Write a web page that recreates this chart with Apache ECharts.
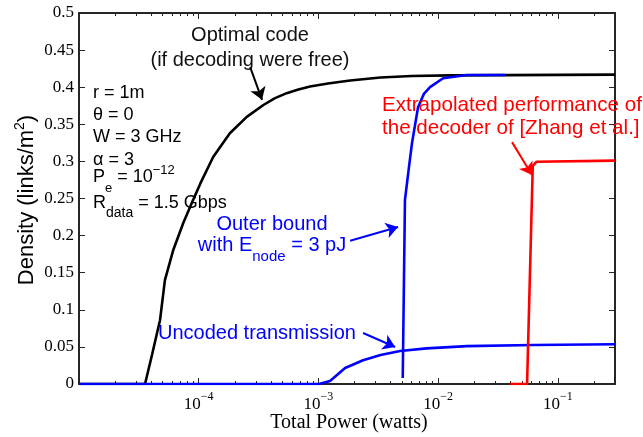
<!DOCTYPE html>
<html><head><meta charset="utf-8">
<script src="https://cdn.jsdelivr.net/npm/echarts@6/dist/echarts.min.js"></script>
<style>html,body{margin:0;padding:0;background:#fff}#c{width:643px;height:437px}</style>
</head><body><div id="c"></div>
<script>
// ---- data ----
const optimalX = [1e-5, 3.56e-5, 4.07e-5, 4.49e-5, 4.75e-5, 5.22e-5, 6.14e-5, 7.43e-5, 8.75e-5, 1.03e-4, 1.32e-4, 1.82e-4, 2.52e-4, 3.47e-4, 4.3e-4, 5.43e-4, 6.8e-4, 8.51e-4, 1.2e-3, 1.84e-3, 3.3e-3, 6.0e-3, 0.0126, 0.3];
const optimalY = [0, 0, 0.039, 0.069, 0.086, 0.140, 0.181, 0.217, 0.244, 0.270, 0.306, 0.338, 0.360, 0.376, 0.385, 0.392, 0.397, 0.401, 0.405, 0.409, 0.413, 0.415, 0.416, 0.417];
const outerX = [5.06e-3, 5.28e-3, 5.7e-3, 6.05e-3, 6.79e-3, 7.6e-3, 8.55e-3, 0.0110, 0.0174, 0.0362];
const outerY = [0.008, 0.248, 0.292, 0.325, 0.373, 0.391, 0.400, 0.412, 0.4165, 0.4165];
const uncodedX = [1e-5, 1.01e-3, 1.25e-3, 1.67e-3, 2.36e-3, 3.3e-3, 4.81e-3, 8.0e-3, 0.0174, 0.0621, 0.3];
const uncodedY = [0, 0, 0.004, 0.0216, 0.032, 0.039, 0.0445, 0.048, 0.051, 0.0526, 0.0535];
const zhangX = [0.0399, 0.0553, 0.0617, 0.0665, 0.3];
const zhangY = [0, 0, 0.294, 0.2996, 0.301];
const xRange = [1e-5, 0.3];
const yRange = [0, 0.5];
const yStep = 0.05;
const xMajorTicks = [1e-4, 1e-3, 1e-2, 1e-1];
const xMinorTicks = [2e-5,3e-5,4e-5,5e-5,6e-5,7e-5,8e-5,9e-5,
  2e-4,3e-4,4e-4,5e-4,6e-4,7e-4,8e-4,9e-4,
  2e-3,3e-3,4e-3,5e-3,6e-3,7e-3,8e-3,9e-3,
  2e-2,3e-2,4e-2,5e-2,6e-2,7e-2,8e-2,9e-2, 2e-1];
// arrows: [fromX, fromY, toX, toY] in data units
const arrowOptimal = [2.69e-4, 0.427, 3.38e-4, 0.383];
const arrowOuter = [1.84e-3, 0.193, 4.62e-3, 0.2116];
const arrowUncoded = [2.36e-3, 0.0687, 4.37e-3, 0.0499];
const arrowZhang = [0.0414, 0.326, 0.0608, 0.2817];

// ---- chart ----
const LX = Math.log10;
const axisColor = '#262626';
const SANS = 'Liberation Sans, Arial, Helvetica, sans-serif';
const SERIF = 'Liberation Serif, Times New Roman, serif';
const zip = (xs, ys) => xs.map((x, i) => [x, ys[i]]);

function tickAxis(pos, values, len, withLabels) {
  return {
    type: 'value', position: pos, min: LX(xRange[0]), max: LX(xRange[1]),
    axisLine: {show: false, onZero: false}, splitLine: {show: false},
    axisTick: {show: true, inside: true, length: len, customValues: values.map(LX),
      lineStyle: {color: axisColor, width: 1}},
    axisLabel: withLabels ? {
      show: true, customValues: values.map(LX), margin: 7,
      formatter: v => '{b|10}{s|\u2212' + Math.round(-v) + '}',
      rich: {
        b: {fontFamily: SERIF, fontSize: 17, color: '#000', lineHeight: 28, verticalAlign: 'middle'},
        s: {fontFamily: SERIF, fontSize: 12, color: '#000', height: 12, verticalAlign: 'top'}
      }
    } : {show: false}
  };
}
function logAxis(pos) {
  return {
    type: 'log', logBase: 10, position: pos, min: xRange[0], max: xRange[1],
    axisLine: {show: true, onZero: false, lineStyle: {color: axisColor, width: 2}},
    axisTick: {show: false}, axisLabel: {show: false}, splitLine: {show: false}
  };
}
function yAx(pos, labels) {
  return {
    type: 'value', position: pos, min: yRange[0], max: yRange[1], interval: yStep,
    axisLine: {show: true, onZero: false, lineStyle: {color: axisColor, width: 2}},
    axisTick: {show: true, inside: true, length: 6, lineStyle: {color: axisColor, width: 1}},
    axisLabel: labels ? {fontFamily: SERIF, fontSize: 17, color: '#000', margin: 5} : {show: false},
    splitLine: {show: false}
  };
}
function arrow(a, color) {
  return {
    silent: true, animation: false, symbol: ['none', 'arrow'], symbolSize: 12,
    lineStyle: {color: color, width: 2, type: 'solid'}, itemStyle: {color: color},
    label: {show: false},
    data: [[{coord: [a[0], a[1]], symbol: 'none'}, {coord: [a[2], a[3]], symbol: 'arrow', symbolSize: 12}]]
  };
}
function lineSeries(name, xs, ys, color, arrowDef) {
  return {
    name, type: 'line', xAxisIndex: 0, yAxisIndex: 0, data: zip(xs, ys),
    showSymbol: false, symbol: 'none', smooth: false, clip: true,
    lineStyle: {color, width: 2.6}, itemStyle: {color},
    markLine: arrowDef ? arrow(arrowDef, color) : undefined
  };
}
function T(x, y, text, o) {
  return {
    type: 'text', x, y, z: 100, silent: true, rotation: o.rotation || 0,
    style: {
      text, fill: o.color || '#000', fontFamily: o.family || SANS, fontSize: o.size || 20,
      align: o.align || 'left', verticalAlign: 'middle', rich: o.rich
    }
  };
}
const richSS = (base, color, subSize, subH, supSize, supH) => ({
  n: {fontFamily: SANS, fontSize: base, fill: color, lineHeight: 40, verticalAlign: 'middle'},
  sub: {fontFamily: SANS, fontSize: subSize, fill: color, height: subH, verticalAlign: 'bottom'},
  sup: {fontFamily: SANS, fontSize: supSize, fill: color, height: supH, verticalAlign: 'top'}
});

const BLUE = '#0000ff', RED = '#ff0000', BLACK = '#000000';
const option = {
  animation: false,
  backgroundColor: '#fff',
  grid: {left: 79, right: 28, top: 13, bottom: 53, containLabel: false, outerBoundsMode: 'none'},
  xAxis: [
    logAxis('bottom'), logAxis('top'),
    tickAxis('bottom', xMajorTicks, 6, true), tickAxis('bottom', xMinorTicks, 3, false),
    tickAxis('top', xMajorTicks, 6, false), tickAxis('top', xMinorTicks, 3, false)
  ],
  yAxis: [yAx('left', true), yAx('right', false)],
  series: [
    lineSeries('Optimal code', optimalX, optimalY, BLACK, arrowOptimal),
    lineSeries('Uncoded transmission', uncodedX, uncodedY, BLUE, arrowUncoded),
    lineSeries('Outer bound', outerX, outerY, BLUE, arrowOuter),
    lineSeries('Zhang et al.', zhangX, zhangY, RED, arrowZhang)
  ],
  graphic: [
    T(250, 35, 'Optimal code', {align: 'center', color: '#111'}),
    T(250, 60, '(if decoding were free)', {align: 'center', color: '#111'}),
    T(93, 93, 'r = 1m', {size: 18}),
    T(93, 115, '\u03b8 = 0', {size: 18}),
    T(93, 137, 'W = 3 GHz', {size: 18}),
    T(93, 160, '\u03b1 = 3', {size: 18}),
    T(93, 177, '{n|P}{sub|e}{n| = 10}{sup|\u221212}', {size: 18, rich: richSS(18, '#000', 13, 18, 13, 26)}),
    T(93, 203, '{n|R}{sub|data}{n| = 1.5 Gbps}', {size: 18, rich: richSS(18, '#000', 14, 20, 13, 26)}),
    T(272, 224, 'Outer bound', {align: 'center', color: BLUE}),
    T(272, 245, '{n|with E}{sub|node}{n| = 3 pJ}', {align: 'center', color: BLUE, rich: richSS(20, BLUE, 15, 16, 13, 26)}),
    T(158, 333, 'Uncoded transmission', {color: BLUE}),
    T(382, 105, 'Extrapolated performance of', {color: RED, size: 20.6}),
    T(382, 128, 'the decoder of [Zhang et al.]', {color: RED, size: 20.6}),
    T(349, 423, 'Total Power (watts)', {align: 'center', family: SERIF, size: 20}),
    T(27, 200, '{n|Density (links/m}{sup|2}{n|)}', {align: 'center', size: 22, rotation: Math.PI / 2,
      rich: {
        n: {fontFamily: SANS, fontSize: 22, fill: '#000', lineHeight: 30, verticalAlign: 'middle'},
        sup: {fontFamily: SANS, fontSize: 14, fill: '#000', height: 16, verticalAlign: 'top'}
      }})
  ]
};
const chart = echarts.init(document.getElementById('c'));
chart.setOption(option);
</script>
</body></html>
